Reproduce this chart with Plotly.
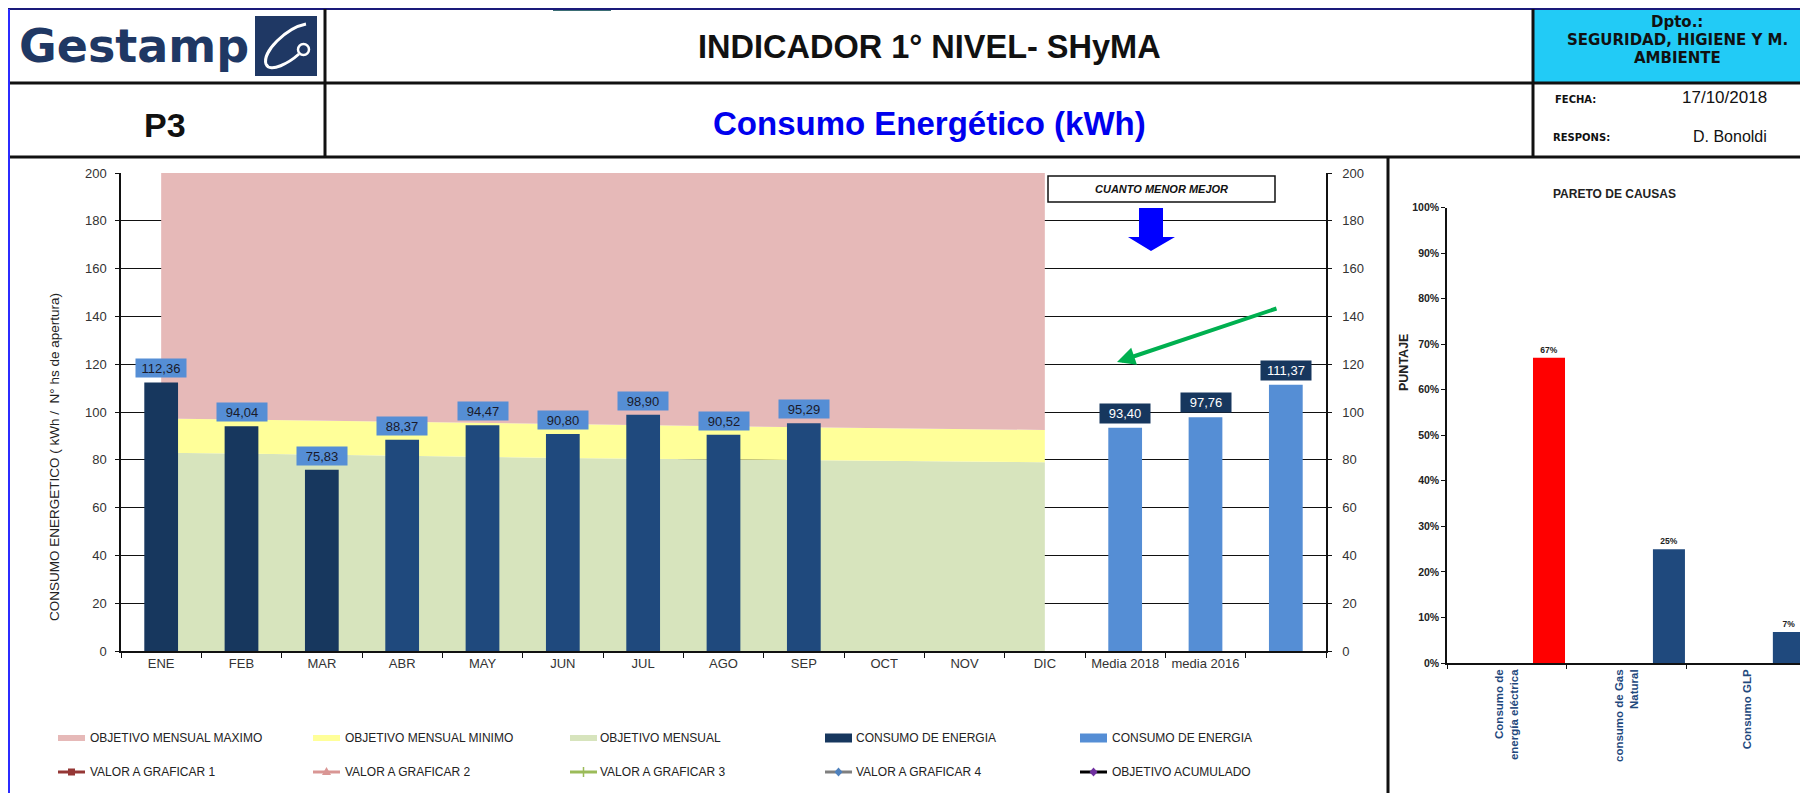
import plotly.graph_objects as go

# the page body adds an 8px margin, so the figure is 8px smaller and coordinates are shifted
OX, OY = 8, 8
FW, FH = 1800, 785


def px(x):
    return (x - OX) / FW


def py(y):
    return 1 - (y - OY) / FH


# ---------------- data ----------------
months = ["ENE", "FEB", "MAR", "ABR", "MAY", "JUN", "JUL", "AGO", "SEP", "OCT", "NOV", "DIC"]
extra_cats = ["Media 2018", "media 2016", " "]
all_cats = months + extra_cats

obj_maximo = [200, 200, 200, 200, 200, 200, 200, 200, 200, 200, 200, 200]
obj_minimo = [97.3, 96.8, 96.3, 95.8, 95.3, 94.9, 94.4, 94.0, 93.6, 93.2, 92.8, 92.5]
obj_mensual = [83.0, 82.5, 82.0, 81.6, 81.2, 80.8, 80.4, 80.1, 79.8, 79.5, 79.2, 79.0]

consumo_months = ["ENE", "FEB", "MAR", "ABR", "MAY", "JUN", "JUL", "AGO", "SEP"]
consumo = [112.36, 94.04, 75.83, 88.37, 94.47, 90.80, 98.90, 90.52, 95.29]
medias = [93.40, 97.76, 111.37]

y_ticks = [0, 20, 40, 60, 80, 100, 120, 140, 160, 180, 200]

pareto_causes = ["Consumo de<br>energía eléctrica", "consumo de Gas<br>Natural", "Consumo GLP"]
pareto_pct = [0.67, 0.25, 0.068]
pareto_ticks = [0, 0.1, 0.2, 0.3, 0.4, 0.5, 0.6, 0.7, 0.8, 0.9, 1.0]

legend_row1 = ["OBJETIVO MENSUAL MAXIMO", "OBJETIVO MENSUAL MINIMO", "OBJETIVO MENSUAL",
               "CONSUMO DE ENERGIA", "CONSUMO DE ENERGIA"]
legend_row2 = ["VALOR A GRAFICAR 1", "VALOR A GRAFICAR 2", "VALOR A GRAFICAR 3",
               "VALOR A GRAFICAR 4", "OBJETIVO ACUMULADO"]

# ---------------- styles ----------------
FONT = "Liberation Sans"
C_PINK = "#E6B9B8"
C_YELLOW = "#FFFF99"
C_GREEN = "#D7E4BD"
C_NAVY = "#17375E"
C_DARKBLUE = "#1F497D"
C_LIGHTBLUE = "#558ED5"

dark_colors = [C_NAVY, C_NAVY, C_NAVY] + [C_DARKBLUE] * 6


def fmt(v):
    return f"{v:.2f}".replace(".", ",")


fig = go.Figure()

# objective areas (base subplot, below the bars)
fig.add_trace(go.Scatter(x=months, y=obj_mensual, mode="lines", fill="tozeroy",
                         fillcolor=C_GREEN, line=dict(width=0, color=C_GREEN), hoverinfo="skip"))
fig.add_trace(go.Scatter(x=months, y=obj_minimo, mode="lines", fill="tonexty",
                         fillcolor=C_YELLOW, line=dict(width=0, color=C_YELLOW), hoverinfo="skip"))
fig.add_trace(go.Scatter(x=months, y=obj_maximo, mode="lines", fill="tonexty",
                         fillcolor=C_PINK, line=dict(width=0, color=C_PINK), hoverinfo="skip"))

# bars on the overlaying (right) axis so they are drawn above the areas
fig.add_trace(go.Bar(x=consumo_months, y=consumo, width=0.42, yaxis="y2",
                     marker=dict(color=dark_colors, line=dict(width=0))))
fig.add_trace(go.Bar(x=extra_cats, y=medias, width=0.42, yaxis="y2",
                     marker=dict(color=C_LIGHTBLUE, line=dict(width=0))))

# pareto
fig.add_trace(go.Bar(x=pareto_causes, y=pareto_pct, xaxis="x3", yaxis="y3", width=0.267, offset=0.217,
                     marker=dict(color=["#FF0000", C_DARKBLUE, C_DARKBLUE], line=dict(width=0)),
                     texttemplate="%{y:.0%}", textposition="outside", cliponaxis=False,
                     textfont=dict(family=FONT, size=8.5, color="#222", weight="bold")))

annotations = []
for m, v in zip(consumo_months, consumo):
    annotations.append(dict(x=m, y=v, xref="x", yref="y2", text=fmt(v), showarrow=False,
                            yanchor="bottom", yshift=4, bgcolor=C_LIGHTBLUE, width=50, height=18,
                            borderpad=0, font=dict(family=FONT, size=13, color="#1a1a2a")))
for c, v in zip(extra_cats, medias):
    annotations.append(dict(x=c, y=v, xref="x", yref="y2", text=fmt(v), showarrow=False,
                            yanchor="bottom", yshift=4, bgcolor=C_NAVY, width=50, height=19,
                            borderpad=0, font=dict(family=FONT, size=13, color="white")))

shapes = []


def add_line(x0, y0, x1, y1, color, width):
    shapes.append(dict(type="line", xref="paper", yref="paper", x0=px(x0), y0=py(y0), x1=px(x1), y1=py(y1),
                       line=dict(color=color, width=width), layer="above"))


def add_rect(x0, y0, x1, y1, fill, lc=None, lw=0):
    shapes.append(dict(type="rect", xref="paper", yref="paper", x0=px(x0), y0=py(y0), x1=px(x1), y1=py(y1),
                       fillcolor=fill, line=dict(color=lc or fill, width=lw), layer="above"))


def add_path(pts, fill, lc=None, lw=0):
    d = "M " + " L ".join(f"{px(a):.5f},{py(b):.5f}" for a, b in pts) + " Z"
    shapes.append(dict(type="path", xref="paper", yref="paper", path=d, fillcolor=fill,
                       line=dict(color=lc or fill, width=lw), layer="above"))


def add_text(x, y, text, size, color="#111", bold=False, xanchor="center", family=FONT, angle=0, italic=False):
    annotations.append(dict(x=px(x), y=py(y), xref="paper", yref="paper", text=text, showarrow=False,
                            xanchor=xanchor, yanchor="middle", textangle=angle,
                            font=dict(family=family, size=size, color=color,
                                      weight="bold" if bold else "normal",
                                      style="italic" if italic else "normal")))


# ---------------- header ----------------
add_rect(1533, 9, 1808, 83, "#22CBF6")
add_rect(553, 8, 611, 11, "#3B6E74")
add_line(8, 9, 1808, 9, "#1a1a7a", 2)
add_line(8, 83, 1808, 83, "#111", 3)
add_line(8, 157, 1808, 157, "#111", 3)
add_line(325, 9, 325, 157, "#111", 3)
add_line(1533, 9, 1533, 157, "#111", 3)
add_line(1388, 157, 1388, 793, "#111", 3)
add_line(9, 9, 9, 793, "#2b2bff", 2)

# logo
add_rect(255, 16, 317, 76, "#1F3864")
shapes.append(dict(type="path", xref="paper", yref="paper",
                   path=(f"M {px(306)},{py(24)} C {px(286)},{py(28)} {px(262)},{py(52)} {px(266)},{py(64)} "
                         f"C {px(270)},{py(74)} {px(290)},{py(62)} {px(299)},{py(54)}"),
                   line=dict(color="white", width=3), layer="above"))
shapes.append(dict(type="circle", xref="paper", yref="paper", x0=px(298), y0=py(55), x1=px(309), y1=py(44),
                   line=dict(color="white", width=2.5), fillcolor="#1F3864", layer="above"))
add_text(17, 46, "Gestamp", 46, color="#1F3864", bold=True, xanchor="left", family="DejaVu Sans")

add_text(165, 125, "P3", 34, bold=True)
add_text(929, 47, "INDICADOR 1° NIVEL- SHyMA", 32.5, bold=True)
add_text(929, 124, "Consumo Energético (kWh)", 33, color="#0000EE", bold=True)
add_text(1677, 22, "Dpto.:", 15, bold=True, family="DejaVu Sans")
add_text(1677, 40, "SEGURIDAD, HIGIENE Y M.", 15, bold=True, family="DejaVu Sans")
add_text(1677, 58, "AMBIENTE", 15, bold=True, family="DejaVu Sans")
add_text(1553, 100, "FECHA:", 10, bold=True, xanchor="left", family="DejaVu Sans")
add_text(1551, 138, "RESPONS:", 10, bold=True, xanchor="left", family="DejaVu Sans")
add_text(1724, 98, "17/10/2018", 17)
add_text(1730, 137, "D. Bonoldi", 16)

# ---------------- chart extras ----------------
add_rect(1048, 176, 1275, 202, "white", lc="#111", lw=1.5)
add_text(1161, 189, "CUANTO MENOR MEJOR", 11, bold=True, italic=True)
add_path([(1139, 208), (1163, 208), (1163, 237), (1175, 237), (1151, 251), (1128, 237), (1139, 237)], "#0000FF")
annotations.append(dict(x=px(1117), y=py(362), xref="paper", yref="paper", text="", showarrow=True,
                        ax=161, ay=-54, arrowcolor="#00B050", arrowwidth=4, arrowhead=2, arrowsize=0.9))
add_text(54, 457, "CONSUMO ENERGETICO ( kWh /  N° hs de apertura)", 13.5, color="#222", angle=-90)
add_text(1614, 194, "PARETO DE CAUSAS", 12, bold=True, color="#222")
add_text(1404, 363, "PUNTAJE", 12.5, bold=True, color="#222", angle=-90)

# ---------------- legend ----------------
sym_x = [58, 313, 570, 825, 1080]
txt_x = [88, 343, 598, 854, 1110]
row1_colors = [C_PINK, C_YELLOW, C_GREEN, C_NAVY, C_LIGHTBLUE]
row1_h = [3, 3, 3, 4.5, 4.5]
row2_line = ["#953735", "#D99694", "#9BBB59", "#7F7F7F", "#000000"]
row2_mark = ["#953735", "#D99694", "#9BBB59", "#4F81BD", "#7030A0"]
row2_sym = ["square", "triangle", "cross", "diamond", "diamond"]
Y1, Y2 = 738, 772
for i in range(5):
    x0 = sym_x[i]
    add_rect(x0, Y1 - row1_h[i], x0 + 27, Y1 + row1_h[i], row1_colors[i])
    add_text(txt_x[i], Y1, legend_row1[i], 12, color="#222", xanchor="left")
    add_line(x0, Y2, x0 + 27, Y2, row2_line[i], 3)
    cx = x0 + 13.5
    s = row2_sym[i]
    if s == "square":
        add_rect(cx - 3.5, Y2 - 3.5, cx + 3.5, Y2 + 3.5, row2_mark[i])
    elif s == "triangle":
        add_path([(cx, Y2 - 5), (cx + 4.5, Y2 + 3), (cx - 4.5, Y2 + 3)], row2_mark[i])
    elif s == "cross":
        add_line(cx, Y2 - 5, cx, Y2 + 5, row2_mark[i], 1.5)
    else:
        add_path([(cx, Y2 - 4.5), (cx + 4, Y2), (cx, Y2 + 4.5), (cx - 4, Y2)], row2_mark[i])
    add_text(txt_x[i], Y2, legend_row2[i], 12, color="#222", xanchor="left")

tickfont = dict(family=FONT, size=13, color="#333")

fig.update_layout(
    template="none",
    width=FW, height=FH,
    margin=dict(l=0, r=0, t=0, b=0),
    paper_bgcolor="white", plot_bgcolor="rgba(0,0,0,0)",
    showlegend=False, barmode="overlay",
    xaxis=dict(domain=[px(121), px(1326)], anchor="y", type="category", categoryorder="array",
               categoryarray=all_cats, range=[-0.5, 14.5], showline=True, linecolor="#111", linewidth=1.5,
               ticks="outside", tickson="boundaries", ticklen=5, tickcolor="#111", tickfont=tickfont,
               showgrid=False, zeroline=False),
    yaxis=dict(domain=[py(651), py(173)], anchor="x", range=[0, 200], tickvals=y_ticks,
               showgrid=True, gridcolor="#111", gridwidth=1.2, showline=True, linecolor="#111", linewidth=1.5,
               ticks="outside", ticklen=4, tickcolor="#111", tickfont=tickfont, zeroline=False,
               ticklabelstandoff=6),
    yaxis2=dict(overlaying="y", anchor="x", side="right", range=[0, 200], tickvals=y_ticks,
                showgrid=False, showline=True, linecolor="#111", linewidth=1.5,
                ticks="outside", ticklen=4, tickcolor="#111", tickfont=tickfont, zeroline=False,
                ticklabelstandoff=8),
    xaxis3=dict(domain=[px(1447), 1.0], anchor="y3", type="category", range=[-0.5, 2.51],
                showline=True, linecolor="#111", linewidth=1.5, ticks="outside", tickson="boundaries",
                ticklen=4, tickcolor="#111", tickangle=-90,
                tickfont=dict(family=FONT, size=11.5, color=C_DARKBLUE, weight="bold"),
                showgrid=False, zeroline=False),
    yaxis3=dict(domain=[py(663), py(207.5)], anchor="x3", range=[0, 1], tickvals=pareto_ticks,
                tickformat=".0%", showline=True, linecolor="#111", linewidth=1.5, ticks="outside",
                ticklen=4, tickcolor="#111", tickfont=dict(family=FONT, size=10.5, color="#222", weight="bold"),
                showgrid=False, zeroline=False),
    shapes=shapes,
    annotations=annotations,
)

fig.write_html("out.html")
